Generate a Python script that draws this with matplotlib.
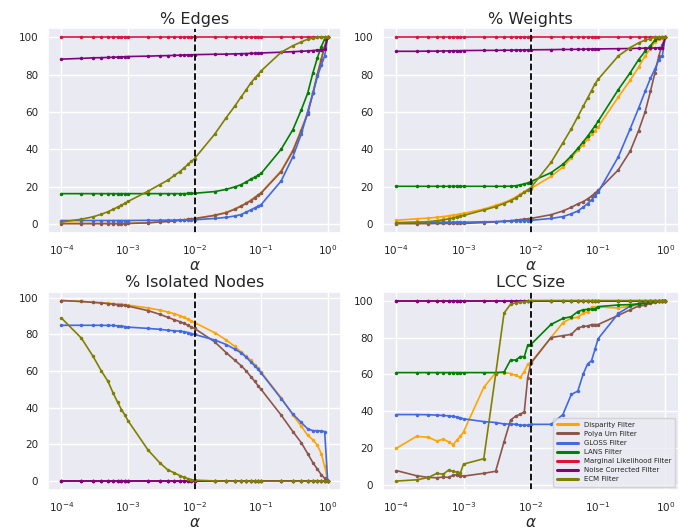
import matplotlib
matplotlib.use('Agg')
import matplotlib.pyplot as plt
import seaborn as sns
import numpy as np

sns.set_theme(style='darkgrid')

# significance levels alpha
alphas = [1e-4, 2e-4, 3e-4, 4e-4, 5e-4, 6e-4, 7e-4, 8e-4, 9e-4,
          1e-3, 2e-3, 3e-3, 4e-3, 5e-3, 6e-3, 7e-3, 8e-3, 9e-3,
          1e-2, 2e-2, 3e-2, 4e-2, 5e-2, 6e-2, 7e-2, 8e-2, 9e-2,
          0.1, 0.2, 0.3, 0.4, 0.5, 0.6, 0.7, 0.8, 0.9, 1.0]

filters = ['Disparity Filter', 'Polya Urn Filter', 'GLOSS Filter', 'LANS Filter',
           'Marginal Likelihood Filter', 'Noise Corrected Filter', 'ECM Filter']
colors = ['orange', '#8c564b', 'royalblue', 'green', 'crimson', 'purple', 'olive']

ones100 = [100] * 37
zeros = [0] * 37

# % Edges
edges_disparity = [0.3, 0.3, 0.3, 0.3, 0.3, 0.3, 0.3, 0.3, 0.3,
                   0.4, 0.7, 1.1, 1.4, 1.7, 2.0, 2.2, 2.5, 2.7,
                   2.9, 4.7, 6.2, 8.0, 9.7, 11.2, 12.7, 14.2, 15.5,
                   16.8, 28.5, 39.5, 50.5, 59.5, 70.5, 80.5, 88.5, 95.5, 100]
edges_polya = [0.1, 0.1, 0.1, 0.1, 0.1, 0.1, 0.1, 0.1, 0.1,
               0.2, 0.5, 1.0, 1.3, 1.6, 1.9, 2.1, 2.4, 2.6,
               2.8, 4.5, 6.0, 7.8, 9.5, 11.0, 12.5, 14.0, 15.3,
               16.5, 28, 39, 50, 59, 70, 80, 88, 95, 100]
edges_gloss = [1.8, 1.8, 1.8, 1.8, 1.8, 1.8, 1.8, 1.8, 1.8,
               1.8, 1.9, 1.9, 2.0, 2.0, 2.1, 2.1, 2.1, 2.2,
               2.2, 2.9, 3.5, 4.2, 5.0, 6.3, 7.5, 8.5, 9.5,
               10.3, 23, 36, 48, 60, 70, 79, 85, 90, 100]
edges_lans = [16.2, 16.2, 16.2, 16.2, 16.2, 16.2, 16.2, 16.2, 16.2,
              16.2, 16.2, 16.2, 16.2, 16.2, 16.2, 16.2, 16.3, 16.3,
              16.4, 17.3, 18.5, 19.8, 21, 22.5, 24, 25, 26,
              27, 40, 50.5, 61, 70, 81, 89, 95, 99, 100]
edges_marginal = ones100
edges_noise = [88.3, 88.7, 89.0, 89.1, 89.2, 89.3, 89.4, 89.5, 89.6,
               89.7, 89.9, 90.1, 90.2, 90.3, 90.4, 90.5, 90.6, 90.6,
               90.7, 90.9, 91.0, 91.1, 91.2, 91.3, 91.4, 91.4, 91.5,
               91.6, 92.0, 92.3, 92.5, 92.7, 92.9, 93.1, 93.3, 93.5, 100]
edges_ecm = [1.0, 2.5, 3.8, 5.2, 6.5, 7.8, 9.0, 10.0, 11.0,
             12.0, 17.5, 21, 23.5, 26, 28, 30, 32, 33.5,
             35, 48, 57, 63, 68, 72, 75.5, 78, 80,
             82, 92, 95.5, 97.5, 99, 99.5, 100, 100, 100, 100]

# % Weights
weights_disparity = [2.0, 2.8, 3.2, 3.6, 4.0, 4.4, 4.8, 5.1, 5.4,
                     5.7, 8.0, 10.0, 11.5, 13.0, 14.5, 16.0, 17.3, 18.3,
                     19, 25.5, 30.5, 35.5, 39.5, 42.5, 45.5, 48, 50,
                     52, 68, 77, 84, 90, 94, 97.5, 99, 99.8, 100]
weights_polya = [0.2, 0.2, 0.2, 0.3, 0.3, 0.3, 0.3, 0.3, 0.3,
                 0.3, 0.8, 1.2, 1.5, 1.8, 2.1, 2.4, 2.6, 2.8,
                 3.0, 5.0, 7.0, 9.0, 10.8, 12, 13.5, 15, 16.5,
                 18, 29, 39, 50, 60, 71, 81, 90, 96, 100]
weights_gloss = [0.8, 0.9, 0.9, 1.0, 1.0, 1.0, 1.0, 1.0, 1.0,
                 1.0, 1.2, 1.3, 1.4, 1.5, 1.6, 1.7, 1.8, 1.9,
                 2.0, 3.0, 4.0, 5.5, 7.0, 9.0, 11, 13, 15,
                 17, 36, 51, 62, 71, 78, 83, 88, 90, 100]
weights_lans = [20.2, 20.2, 20.2, 20.2, 20.2, 20.2, 20.2, 20.2, 20.2,
                20.2, 20.2, 20.2, 20.2, 20.3, 20.5, 21, 21.5, 22,
                22.7, 27.5, 32, 36.5, 40.5, 44, 47, 50, 52.5,
                55, 72, 81, 88, 92.5, 95.5, 98.5, 99.5, 100, 100]
weights_marginal = ones100
weights_noise = [92.5, 92.5, 92.6, 92.6, 92.7, 92.7, 92.8, 92.8, 92.8,
                 92.9, 93.0, 93.0, 93.1, 93.1, 93.2, 93.2, 93.2, 93.3,
                 93.3, 93.4, 93.5, 93.5, 93.6, 93.6, 93.7, 93.7, 93.7,
                 93.8, 93.9, 94.0, 94.1, 94.2, 94.2, 94.3, 94.4, 94.5, 100]
weights_ecm = [0.5, 1.0, 1.3, 1.8, 2.3, 2.8, 3.3, 3.8, 4.2,
               4.6, 7.5, 9.3, 11, 12.5, 14, 15.5, 17, 18.3,
               19.5, 33, 43.5, 51, 57.5, 63, 67.5, 71.5, 75,
               77.5, 90, 94.5, 97, 98.5, 99.3, 100, 100, 100, 100]

# % Isolated Nodes
iso_disparity = [98.5, 98, 97.5, 97.3, 97, 96.8, 96.6, 96.4, 96.2,
                 96, 94.5, 93.3, 92.2, 91.3, 90.3, 89.3, 88.3, 87.3,
                 86.5, 81, 77, 73.5, 70.5, 68, 66, 63.5, 61.5,
                 59.5, 45.5, 36, 30, 25, 22.5, 19.5, 15, 8, 0]
iso_polya = [98.5, 98, 97.5, 97.2, 96.8, 96.5, 96.2, 96, 95.8,
             95.5, 93, 91, 89.3, 88, 87, 86, 85, 84,
             83.3, 76, 70, 66, 63, 60, 57, 54.5, 52,
             50, 36, 27, 21, 15, 10, 6.5, 3.5, 1.5, 0]
iso_gloss = [85, 85, 85, 85, 84.9, 84.9, 84.7, 84.5, 84.3,
             84, 83.3, 82.8, 82.3, 82, 81.8, 81.5, 81, 80.5,
             80, 77, 74.5, 72, 70, 67.5, 65, 63, 61,
             59, 45, 36.5, 32, 28.5, 27.5, 27.5, 27.3, 27, 0]
iso_lans = zeros
iso_marginal = zeros
iso_noise = zeros
iso_ecm = [89, 78, 68, 60, 54.5, 48, 43, 39, 36,
           33, 17, 10, 6, 4.5, 3, 2, 1.3, 0.8,
           0.5, 0.1, 0, 0, 0, 0, 0, 0, 0,
           0, 0, 0, 0, 0, 0, 0, 0, 0, 0]

# LCC Size
lcc_disparity = [20, 26.5, 26, 24, 25, 23.5, 22, 24.5, 26.5,
                 29, 53, 61, 61, 60.5, 59.5, 58.5, 61.5, 65.5,
                 66.5, 80, 88, 90.5, 91, 93, 94, 96.3, 96.5,
                 96.5, 96, 97, 97.5, 98, 98.5, 99, 99.5, 99.8, 100]
lcc_polya = [8, 5.2, 4.3, 4.1, 4.5, 4.3, 5.5, 5.8, 5.3,
             5, 6.5, 7.6, 23.5, 35.3, 37.5, 38.5, 39.8, 58.3,
             66, 80, 81, 81.7, 85.2, 86, 86.2, 87, 87,
             87, 92, 95, 97, 97.5, 98.5, 99, 99.5, 99.8, 100]
lcc_gloss = [38.3, 38.3, 38.2, 38, 37.8, 37.6, 37.3, 37, 36.5,
             36, 34.5, 34, 33.2, 33.2, 33, 32.6, 32.5, 32.5,
             33, 33, 38.3, 49.2, 51, 60.2, 65.7, 67.5, 73.6,
             79.3, 93, 97, 98.3, 99, 99.5, 99.7, 99.8, 99.9, 100]
lcc_lans = [61, 61, 61, 61, 61, 61, 61, 61, 61,
            61, 61, 61, 61.3, 67.8, 67.8, 69.7, 69.6, 75.8,
            76.2, 87.1, 90.3, 91.3, 94, 95, 95.2, 95.2, 95.5,
            96.7, 97.6, 97.8, 98.2, 98.5, 99, 99.5, 99.7, 99.9, 100]
lcc_marginal = ones100
lcc_noise = ones100
lcc_ecm = [2.3, 3, 4.2, 6.5, 6, 8.3, 7.5, 7.2, 6.8,
           11.5, 14.4, 60, 93.2, 98, 98.8, 99.2, 99.4, 99.6,
           100, 100, 100, 100, 100, 100, 100, 100, 100,
           100, 100, 100, 100, 100, 100, 100, 100, 100, 100]

panels = [
    ('% Edges', [edges_disparity, edges_polya, edges_gloss, edges_lans,
                 edges_marginal, edges_noise, edges_ecm]),
    ('% Weights', [weights_disparity, weights_polya, weights_gloss, weights_lans,
                   weights_marginal, weights_noise, weights_ecm]),
    ('% Isolated Nodes', [iso_disparity, iso_polya, iso_gloss, iso_lans,
                          iso_marginal, iso_noise, iso_ecm]),
    ('LCC Size', [lcc_disparity, lcc_polya, lcc_gloss, lcc_lans,
                  lcc_marginal, lcc_noise, lcc_ecm]),
]

fig = plt.figure(figsize=(6.94, 5.31), dpi=100)
# axes boxes in figure fractions (left, bottom, width, height)
boxes = [[0.0692, 0.5612, 0.4222, 0.3861],
         [0.5516, 0.5612, 0.4265, 0.3861],
         [0.0692, 0.0770, 0.4222, 0.3740],
         [0.5516, 0.0770, 0.4265, 0.3740]]
axes = [fig.add_axes(b) for b in boxes]

for i, (ax, (title, series)) in enumerate(zip(axes, panels)):
    for name, color, vals in zip(filters, colors, series):
        ax.plot(alphas, vals, color=color, marker='.', markersize=3,
                linewidth=1.2, label=name)
    ax.axvline(0.01, color='black', linestyle='--', linewidth=1.3)
    ax.set_xscale('log')
    ax.set_title(title, fontsize=11.5, pad=3)
    ax.set_xlabel(r'$\alpha$', fontsize=11, va='top')
    # alpha label sits just under the tick labels
    ax_h = boxes[i][3] * 531
    ax.xaxis.set_label_coords(0.5, -24.5 / ax_h)
    ax.tick_params(labelsize=7.5, pad=1)
    ax.set_yticks([0, 20, 40, 60, 80, 100])

leg = axes[3].legend(loc='lower right', fontsize=5, frameon=True,
                     handlelength=3, borderpad=0.6, labelspacing=0.45)
for line in leg.get_lines():
    line.set_linewidth(2.2)
    line.set_marker('')

fig.savefig('out.png', dpi=100)
